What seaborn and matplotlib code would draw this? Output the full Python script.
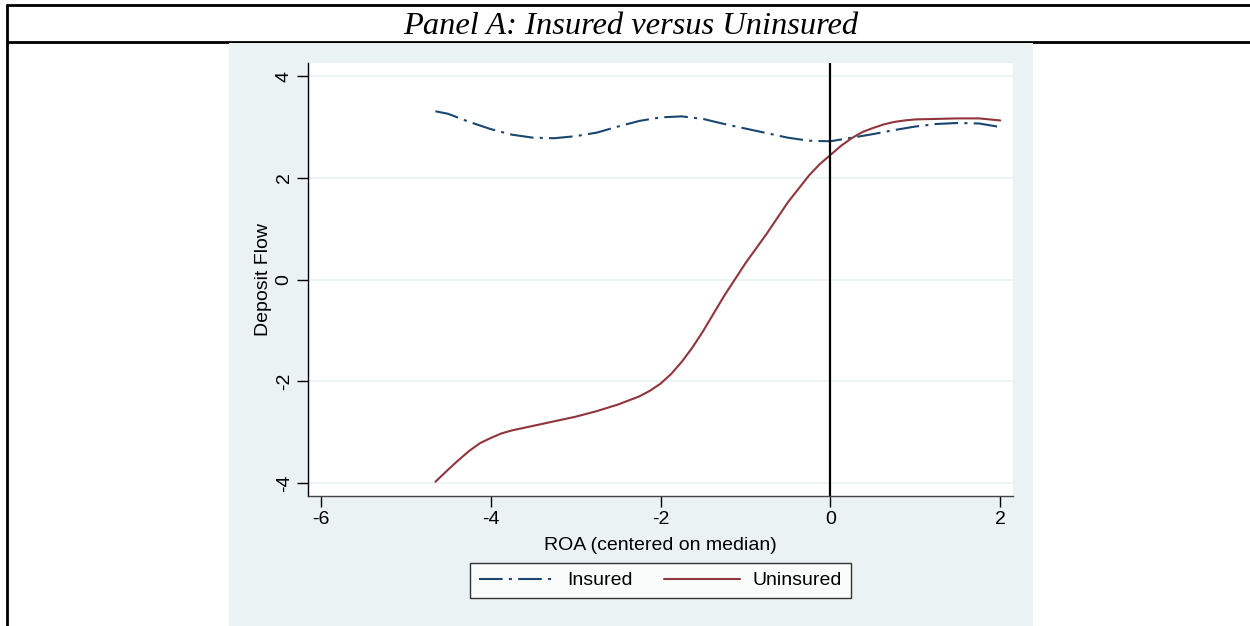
import matplotlib
matplotlib.use("Agg")
import matplotlib.pyplot as plt
import seaborn as sns
import pandas as pd
from matplotlib.lines import Line2D
from matplotlib.patches import Rectangle

# ROA (centered on median) and deposit flow
roa_insured = [-4.65, -4.5, -4.25, -4.0, -3.75, -3.5, -3.25, -3.0, -2.75, -2.5, -2.25,
               -2.0, -1.75, -1.5, -1.25, -1.0, -0.75, -0.5, -0.25, 0.0, 0.25, 0.5,
               0.75, 1.0, 1.25, 1.5, 1.75, 2.0]
insured = [3.31, 3.26, 3.10, 2.96, 2.85, 2.79, 2.78, 2.82, 2.89, 3.01, 3.12,
           3.19, 3.21, 3.16, 3.06, 2.97, 2.88, 2.79, 2.73, 2.72, 2.79, 2.86,
           2.94, 3.01, 3.06, 3.08, 3.07, 3.00]

roa_uninsured = [-4.65, -4.5, -4.375, -4.25, -4.125, -4.0, -3.875, -3.75, -3.5, -3.25,
                 -3.0, -2.75, -2.5, -2.25, -2.125, -2.0, -1.875, -1.75, -1.625, -1.5,
                 -1.25, -1.0, -0.75, -0.5, -0.25, -0.125, 0.0, 0.125, 0.25, 0.375,
                 0.5, 0.625, 0.75, 0.875, 1.0, 1.25, 1.5, 1.75, 2.0]
uninsured = [-3.98, -3.74, -3.55, -3.37, -3.22, -3.12, -3.03, -2.97, -2.88, -2.79,
             -2.70, -2.59, -2.46, -2.30, -2.19, -2.05, -1.86, -1.62, -1.34, -1.02,
             -0.32, 0.32, 0.90, 1.52, 2.05, 2.27, 2.45, 2.63, 2.78, 2.90,
             2.98, 3.05, 3.10, 3.13, 3.15, 3.16, 3.17, 3.17, 3.13]

y_ticks = [-4, -2, 0, 2, 4]
x_ticks = [-6, -4, -2, 0, 2]

df = pd.concat([
    pd.DataFrame({"roa": roa_insured, "flow": insured, "group": "Insured"}),
    pd.DataFrame({"roa": roa_uninsured, "flow": uninsured, "group": "Uninsured"}),
])

sns.set_style("white")
plt.rcParams["font.family"] = ["Liberation Sans", "DejaVu Sans"]
plt.rcParams["lines.scale_dashes"] = False
plt.rcParams["axes.unicode_minus"] = False
for k in ["text.color", "axes.labelcolor", "xtick.color", "ytick.color"]:
    plt.rcParams[k] = "black"

W, H = 1250, 626
fig = plt.figure(figsize=(12.5, 6.26), dpi=100)
fig.patch.set_facecolor("white")

# stata-style outer panel
fig.add_artist(Rectangle((229 / W, 0), 804 / W, 1 - 43 / H, transform=fig.transFigure,
                         facecolor="#EAF2F3", edgecolor="none", zorder=0))
# table frame
fig.add_artist(Line2D([7 / W, 1], [1 - 4.5 / H, 1 - 4.5 / H], transform=fig.transFigure,
                      color="black", lw=2))
fig.add_artist(Line2D([7 / W, 7 / W], [0, 1 - 4.5 / H], transform=fig.transFigure,
                      color="black", lw=2))
fig.add_artist(Line2D([7 / W, 1], [1 - 42 / H, 1 - 42 / H], transform=fig.transFigure,
                      color="black", lw=2, zorder=-1))
fig.text(631 / W, 1 - 27 / H, "Panel A: Insured versus Uninsured", ha="center", va="center",
         fontsize=23.4, fontstyle="italic", color="black",
         family=["Liberation Serif", "DejaVu Serif"])

ax = fig.add_axes([308 / W, 1 - 496 / H, 705 / W, 433 / H])
ax.set_facecolor("white")

sns.lineplot(data=df, x="roa", y="flow", hue="group", style="group", ax=ax,
             palette={"Insured": "#1A476F", "Uninsured": "#90353B"},
             dashes={"Insured": (17, 4.5, 2.2, 4.5), "Uninsured": ""},
             linewidth=1.5, estimator=None)
ax.axvline(0, color="black", lw=1.6, zorder=3)

ax.set_xlim(-6.15, 2.15)
ax.set_ylim(-4.26, 4.26)
ax.set_xticks(x_ticks)
ax.set_yticks(y_ticks)
ax.yaxis.grid(True, color="#EAF2F3", lw=1.3)
ax.xaxis.grid(False)
ax.set_axisbelow(True)

for s in ["top", "right"]:
    ax.spines[s].set_visible(False)
ax.spines["left"].set_color("black")
ax.spines["bottom"].set_color("#444444")
ax.spines["left"].set_linewidth(1.0)
ax.spines["bottom"].set_linewidth(1.0)

ax.tick_params(axis="both", direction="out", length=8, width=1, labelsize=14, color="black",
               bottom=True, left=True, pad=3)
for t in ax.get_yticklabels():
    t.set_rotation(90)
    t.set_va("center")

ax.set_xlabel("ROA (centered on median)", fontsize=14, labelpad=6)
ax.set_ylabel("Deposit Flow", fontsize=14, labelpad=3)

handles, labels = ax.get_legend_handles_labels()
leg = ax.legend(handles, labels, loc="center", ncol=2,
                bbox_to_anchor=(660.5 / W, 1 - 580.5 / H), bbox_transform=fig.transFigure,
                fontsize=14, frameon=True, fancybox=False, edgecolor="black",
                handlelength=3.9, handletextpad=0.65, columnspacing=1.6,
                borderpad=0.45, borderaxespad=0)
leg.get_frame().set_linewidth(1.0)

fig.savefig("out.png", dpi=100)
